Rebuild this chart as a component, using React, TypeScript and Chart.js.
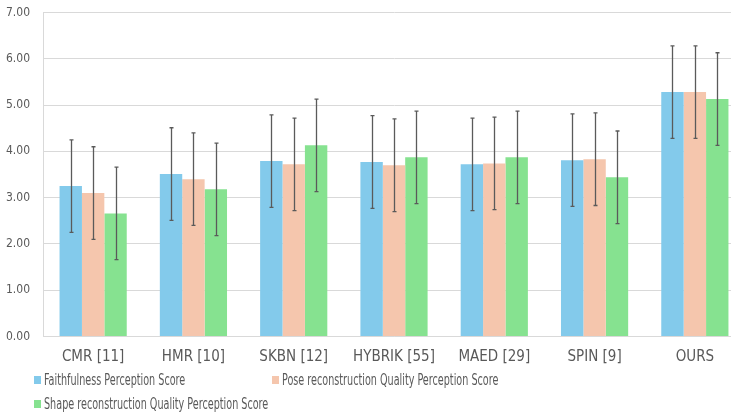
import React, { useEffect, useRef } from "react";
import { Chart, registerables } from "chart.js";

Chart.register(...registerables);

const categories = ["CMR [11]", "HMR [10]", "SKBN [12]", "HYBRIK [55]", "MAED [29]", "SPIN [9]", "OURS"];
const faithfulness = [3.25, 3.51, 3.79, 3.77, 3.72, 3.81, 5.28];
const poseQuality = [3.1, 3.4, 3.72, 3.7, 3.74, 3.83, 5.28];
const shapeQuality = [2.66, 3.18, 4.13, 3.87, 3.87, 3.44, 5.13];
const faithfulnessErr = [1.0, 1.0, 1.0, 1.0, 1.0, 1.0, 1.0];
const poseQualityErr = [1.0, 1.0, 1.0, 1.0, 1.0, 1.0, 1.0];
const shapeQualityErr = [1.0, 1.0, 1.0, 1.0, 1.0, 1.0, 1.0];
const seriesNames = [
  "Faithfulness Perception Score",
  "Pose reconstruction Quality Perception Score",
  "Shape reconstruction Quality Perception Score",
];
const yTicks = [0, 1, 2, 3, 4, 5, 6, 7];

const COLORS = ["#83CAEB", "#F5C6AD", "#86E290"];
const FONT = "'Liberation Sans Narrow', 'DejaVu Sans Condensed', 'Open Sans', sans-serif";
const TEXT = "#595959";

const errorBarPlugin = {
  id: "errorBars",
  afterDatasetsDraw(chart: any) {
    const ctx = chart.ctx;
    const yScale = chart.scales.y;
    chart.data.datasets.forEach((ds: any, di: number) => {
      const meta = chart.getDatasetMeta(di);
      const errs = ds.errors || [];
      meta.data.forEach((bar: any, i: number) => {
        const v = ds.data[i];
        const e = errs[i];
        if (v == null || e == null) return;
        const x = Math.round(bar.x) + 0.5;
        const yt = yScale.getPixelForValue(v + e);
        const yb = yScale.getPixelForValue(v - e);
        ctx.save();
        ctx.strokeStyle = "#5a5a5a";
        ctx.lineWidth = 1.3;
        ctx.beginPath();
        ctx.moveTo(x, yt);
        ctx.lineTo(x, yb);
        ctx.moveTo(x - 2, yt);
        ctx.lineTo(x + 2, yt);
        ctx.moveTo(x - 2, yb);
        ctx.lineTo(x + 2, yb);
        ctx.stroke();
        ctx.restore();
      });
    });
  },
};

export default function App() {
  const canvasRef = useRef<HTMLCanvasElement | null>(null);

  useEffect(() => {
    if (!canvasRef.current) return;
    const chart = new Chart(canvasRef.current, {
      type: "bar",
      data: {
        labels: categories,
        datasets: [
          { label: seriesNames[0], data: faithfulness, errors: faithfulnessErr, backgroundColor: COLORS[0] } as any,
          { label: seriesNames[1], data: poseQuality, errors: poseQualityErr, backgroundColor: COLORS[1] } as any,
          { label: seriesNames[2], data: shapeQuality, errors: shapeQualityErr, backgroundColor: COLORS[2] } as any,
        ],
      },
      options: {
        responsive: false,
        animation: false,
        devicePixelRatio: 1,
        layout: { padding: { top: 12.5, right: 0, left: 0, bottom: 0 } },
        plugins: { legend: { display: false }, tooltip: { enabled: false } },
        datasets: { bar: { categoryPercentage: 0.67, barPercentage: 1.0 } },
        scales: {
          x: {
            grid: { display: false, drawTicks: false },
            border: { display: true, color: "#d9d9d9", width: 1 },
            ticks: { color: TEXT, font: { family: FONT, size: 15 }, padding: 12, maxRotation: 0, autoSkip: false },
            afterFit: (s: any) => {
              s.height = 75.5;
              s.paddingLeft = 0;
              s.paddingRight = 0;
            },
          },
          y: {
            min: 0,
            max: 7,
            afterBuildTicks: (s: any) => {
              s.ticks = yTicks.map((v) => ({ value: v }));
            },
            grid: { color: "#d9d9d9", lineWidth: 1, drawTicks: false },
            border: { display: true, color: "#d9d9d9", width: 1 },
            ticks: {
              color: TEXT,
              font: { family: FONT, size: 12 },
              padding: 13,
              callback: (v: any) => Number(v).toFixed(2),
            },
            afterFit: (s: any) => {
              s.width = 43;
              s.paddingTop = 0;
              s.paddingBottom = 0;
            },
          },
        },
      } as any,
      plugins: [errorBarPlugin],
    });
    return () => chart.destroy();
  }, []);

  const legendItem = (i: number, left: number, top: number) => (
    <div
      key={i}
      style={{
        position: "absolute",
        left,
        top,
        display: "flex",
        alignItems: "center",
        whiteSpace: "nowrap",
        fontFamily: FONT,
        fontSize: 15,
        color: TEXT,
        lineHeight: "16px",
      }}
    >
      <span style={{ display: "inline-block", width: 7, height: 8, background: COLORS[i], marginRight: 3 }} />
      <span style={{ display: "inline-block", transform: "scaleX(0.714)", transformOrigin: "left center" }}>
        {seriesNames[i]}
      </span>
    </div>
  );

  return (
    <div
      style={{
        position: "fixed",
        left: 0,
        top: 0,
        width: 731,
        height: 412,
        overflow: "hidden",
        background: "#fff",
      }}
    >
      <canvas ref={canvasRef} width={745} height={412} style={{ position: "absolute", left: 0, top: 0 }} />
      {legendItem(0, 34, 372)}
      {legendItem(1, 272, 372)}
      {legendItem(2, 34, 396)}
    </div>
  );
}
